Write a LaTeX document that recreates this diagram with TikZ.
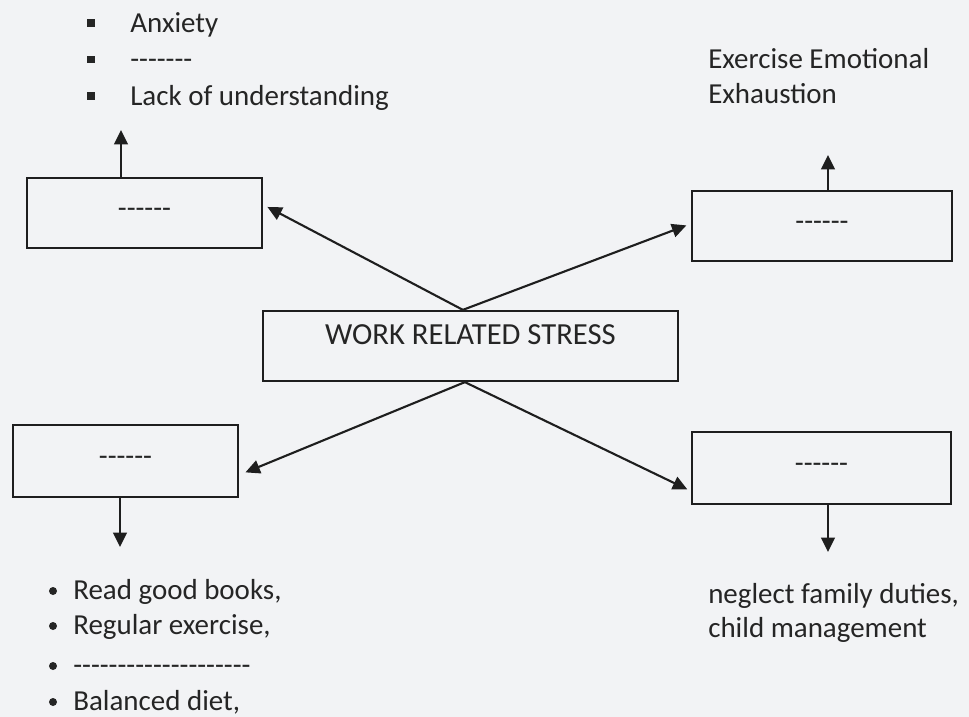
\documentclass[tikz,border=0pt]{standalone}
\usepackage{fontspec}
\setmainfont{Carlito}
\usepackage{tikz}
\usetikzlibrary{calc,arrows.meta}

\definecolor{ink}{HTML}{1E1E1E}
\definecolor{txt}{HTML}{252525}
\definecolor{paper}{HTML}{F2F3F5}

% a row of hyphens, kept apart so they never join into dashes
\newcommand\blanks[1]{\foreach \k in {1,...,#1}{-\kern0pt}}
% square bullet list item: name, x of text, baseline y, text
\newcommand\sqitem[4]{
  \node[fill=txt, minimum size=0.19cm, inner sep=0pt] (#1 mark) at (#2-39, #3-9) {};
  \node[anchor=base west, inner sep=0pt] (#1) at (#2, #3) {#4};
}
% round bullet list item: name, x of text, baseline y, text
\newcommand\dotitem[4]{
  \node[fill=txt, circle, minimum size=0.2cm, inner sep=0pt] (#1 mark) at (#2-20, #3-8) {};
  \node[anchor=base west, inner sep=0pt] (#1) at (#2, #3) {#4};
}

\begin{document}
\begin{tikzpicture}[x=0.025cm, y=-0.025cm, text=txt,
    font=\fontsize{20.6}{25}\selectfont,
    blank/.style={draw=ink, line width=1.6pt, inner sep=0pt,
      text height=0.3cm, text depth=0.1cm},
    title/.style={draw=ink, line width=1.6pt, inner sep=0pt,
      text height=0.5cm, text depth=0.56cm, font=\fontsize{21.8}{26}\selectfont},
    link/.style={draw=ink, line width=1.5pt,
      -{Triangle[length=0.36cm,width=0.34cm]}}]
  \fill[paper] (0,0) rectangle (969,717);
  \useasboundingbox (0,0) rectangle (969,717);

  % boxes
  \node[title, minimum width=10.375cm, minimum height=1.75cm] (wrs) at (470.5,346) {WORK RELATED STRESS};
  \node[blank, minimum width=5.875cm, minimum height=1.75cm] (tl) at (144.5,213) {\blanks{6}};
  \node[blank, minimum width=6.5cm, minimum height=1.75cm] (tr) at (822,226) {\blanks{6}};
  \node[blank, minimum width=5.625cm, minimum height=1.8cm] (bl) at (125.5,461) {\blanks{6}};
  \node[blank, minimum width=6.475cm, minimum height=1.8cm] (br) at (821.5,468) {\blanks{6}};

  % arrows out of the middle box
  \coordinate (hubN) at ([xshift=-0.19cm]wrs.north);
  \coordinate (hubS) at ([xshift=-0.14cm]wrs.south);
  \draw[link, shorten >=0.12cm] (hubN) -- (tl.4);
  \draw[link, shorten >=0.12cm] (hubN) -- (tr.179);
  \draw[link, shorten >=0.17cm] (hubS) -- (bl.-7);
  \draw[link, shorten >=0.1cm] (hubS) -- (br.190);

  % arrows to the lists
  \coordinate (tlUp) at (121,130);
  \coordinate (trUp) at (828,155);
  \coordinate (blDown) at (120,547);
  \coordinate (brDown) at (828,552);
  \draw[link] (tl.north -| tlUp) -- (tlUp);
  \draw[link] (tr.north -| trUp) -- (trUp);
  \draw[link] (bl.south -| blDown) -- (blDown);
  \draw[link] (br.south -| brDown) -- (brDown);

  % lists
  \sqitem{anx}{130}{32}{Anxiety}
  \sqitem{gap}{130}{68.5}{\blanks{7}}
  \sqitem{lack}{130}{105}{Lack of understanding}

  \node[anchor=base west, inner sep=0pt] (exer) at (708,68) {Exercise Emotional};
  \node[anchor=base west, inner sep=0pt] (exh) at (708,103) {Exhaustion};

  \dotitem{read}{73}{599}{Read good books,}
  \dotitem{reg}{73}{634}{Regular exercise,}
  \dotitem{gap2}{73}{674}{\blanks{20}}
  \dotitem{diet}{73}{710}{Balanced diet,}

  \node[anchor=base west, inner sep=0pt] (duty) at (708,603) {neglect family duties,};
  \node[anchor=base west, inner sep=0pt] (child) at (708,637) {child management};
\end{tikzpicture}
\end{document}
